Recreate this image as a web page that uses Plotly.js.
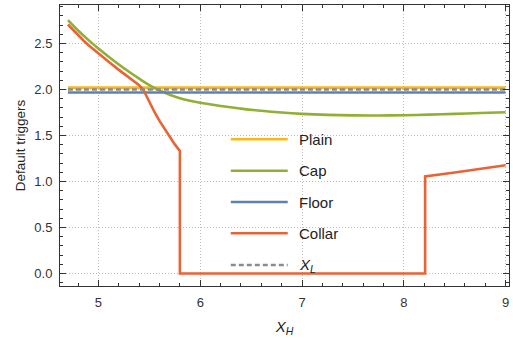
<!DOCTYPE html>
<html>
<head>
<meta charset="utf-8">
<script src="https://cdn.plot.ly/plotly-3.0.1.min.js"></script>
<style>html,body{margin:0;padding:0;background:#fff;}#chart{width:513px;height:338px;}</style>
</head>
<body>
<div id="chart"></div>
<script>
// ---- data ----
const plainX = [4.7, 9.0];
const plainY = [2.02, 2.02];

const capX = [4.7, 4.8, 4.9, 5.0, 5.1, 5.2, 5.3, 5.4, 5.5, 5.6, 5.7, 5.8, 5.9, 6.0, 6.2, 6.4, 6.6, 6.8, 7.0, 7.25, 7.5, 7.75, 8.0, 8.25, 8.5, 8.75, 9.0];
const capY = [2.753, 2.641, 2.539, 2.445, 2.356, 2.272, 2.192, 2.117, 2.048, 1.99, 1.942, 1.905, 1.877, 1.855, 1.82, 1.792, 1.768, 1.749, 1.735, 1.724, 1.718, 1.717, 1.72, 1.727, 1.735, 1.744, 1.753];

const floorX = [4.7, 9.0];
const floorY = [1.967, 1.967];

const collarX = [4.7, 4.75, 4.8, 4.85, 4.9, 4.95, 5.0, 5.1, 5.2, 5.3, 5.4, 5.44, 5.47, 5.5, 5.55, 5.6, 5.65, 5.7, 5.75, 5.8, 5.8, 8.21, 8.21, 8.5, 8.75, 9.0];
const collarY = [2.706, 2.645, 2.59, 2.535, 2.483, 2.435, 2.39, 2.30, 2.213, 2.128, 2.045, 2.0, 1.93, 1.862, 1.755, 1.658, 1.568, 1.482, 1.403, 1.333, 0, 0, 1.055, 1.097, 1.137, 1.177];

const xlX = [4.7, 9.0];
const xlY = [2.0, 2.0];

const seriesNames = ["Plain", "Cap", "Floor", "Collar", "<i>X</i><sub><i>L</i></sub>"];
const seriesColors = ["#FBB714", "#8FB032", "#5E81B5", "#EB6235", "#8C8C8C"];
const xTickVals = [5, 6, 7, 8, 9];
const yTickVals = [0, 0.5, 1.0, 1.5, 2.0, 2.5];
const yTickText = ["0.0", "0.5", "1.0", "1.5", "2.0", "2.5"];

// ---- traces ----
const LW = 2.6;
const traces = [
  {x: plainX, y: plainY, mode: "lines", line: {color: seriesColors[0], width: LW}, name: seriesNames[0]},
  {x: capX, y: capY, mode: "lines", line: {color: seriesColors[1], width: LW, shape: "spline", smoothing: 1.2}, name: seriesNames[1]},
  {x: floorX, y: floorY, mode: "lines", line: {color: seriesColors[2], width: LW}, name: seriesNames[2]},
  {x: collarX, y: collarY, mode: "lines", line: {color: seriesColors[3], width: LW}, name: seriesNames[3]},
  {x: xlX, y: xlY, mode: "lines", line: {color: seriesColors[4], width: LW, dash: "5px,3px"}, name: seriesNames[4]}
];

// ---- custom legend (paper coords) ----
const legY = [0.522, 0.4103, 0.2989, 0.1875, 0.0747];
const legX0 = 0.3804, legX1 = 0.5072, legTX = 0.5272;
const shapes = [];
const annotations = [];
for (let i = 0; i < seriesNames.length; i++) {
  shapes.push({type: "line", xref: "paper", yref: "paper", x0: legX0, x1: legX1, y0: legY[i], y1: legY[i],
    line: {color: seriesColors[i], width: LW, dash: i === 4 ? "5px,3px" : "solid"}});
  annotations.push({xref: "paper", yref: "paper", x: legTX, y: legY[i], xanchor: "left", yanchor: "middle",
    text: seriesNames[i], showarrow: false, font: {family: "Liberation Sans, Arial, sans-serif", size: 15, color: "#222"}});
}

const axisCommon = {
  showline: true, linecolor: "#333", linewidth: 1, mirror: "allticks",
  ticks: "inside", ticklen: 6, tickwidth: 1, tickcolor: "#333",
  showgrid: true, gridcolor: "#BDBDBD", griddash: "1px,2px", gridwidth: 1,
  zeroline: false,
  tickfont: {family: "Liberation Sans, Arial, sans-serif", size: 13, color: "#333"}
};

const layout = {
  width: 513, height: 338,
  margin: {l: 60, r: 3.5, t: 5, b: 52},
  paper_bgcolor: "#fff", plot_bgcolor: "#fff",
  showlegend: false,
  xaxis: Object.assign({}, axisCommon, {
    range: [4.622, 9.034], tickvals: xTickVals, ticktext: xTickVals.map(String),
    minor: {dtick: 0.2, tick0: 0, ticks: "inside", ticklen: 3, tickcolor: "#333", showgrid: false},
    ticklabelstandoff: 4,
    title: {text: "<i>X</i><sub><i>H</i></sub>", font: {family: "Liberation Sans, Arial, sans-serif", size: 15, color: "#222"}, standoff: 12}
  }),
  yaxis: Object.assign({}, axisCommon, {
    range: [-0.136, 2.918], tickvals: yTickVals, ticktext: yTickText,
    minor: {dtick: 0.1, tick0: 0, ticks: "inside", ticklen: 3, tickcolor: "#333", showgrid: false},
    ticklabelstandoff: 4,
    title: {text: "Default triggers", font: {family: "Liberation Sans, Arial, sans-serif", size: 13.5, color: "#222"}, standoff: 5}
  }),
  shapes: shapes,
  annotations: annotations
};

Plotly.newPlot("chart", traces, layout, {displayModeBar: false, staticPlot: true});
</script>
</body>
</html>
